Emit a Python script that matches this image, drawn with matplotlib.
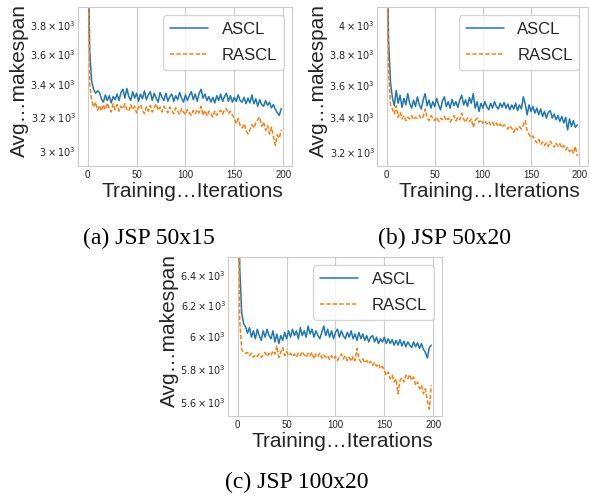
"""
Average makespan during training, ASCL vs RASCL, on three JSP instance sizes.
"""

import matplotlib
matplotlib.use("Agg")
import matplotlib.pyplot as plt
import seaborn as sns
import numpy as np
from matplotlib.ticker import FuncFormatter

ITERATIONS = list(range(0, 200, 2))

# (a) JSP 50x15
ascl_50x15 = [
    4600, 3620, 3420, 3370, 3345, 3360, 3350, 3310, 3290, 3335,
    3300, 3330, 3285, 3325, 3305, 3340, 3300, 3350, 3370, 3315,
    3375, 3325, 3300, 3355, 3315, 3345, 3295, 3340, 3310, 3360,
    3305, 3335, 3355, 3300, 3345, 3315, 3290, 3350, 3320, 3300,
    3345, 3295, 3325, 3340, 3295, 3330, 3305, 3350, 3315, 3290,
    3335, 3300, 3330, 3355, 3305, 3340, 3295, 3345, 3370, 3315,
    3340, 3300, 3325, 3290, 3320, 3285, 3330, 3300, 3340, 3295,
    3325, 3345, 3295, 3330, 3290, 3320, 3295, 3335, 3300, 3290,
    3320, 3280, 3315, 3285, 3335, 3280, 3310, 3265, 3305, 3275,
    3265, 3300, 3270, 3290, 3255, 3275, 3245, 3225, 3210, 3250,
]
rascl_50x15 = [
    4500, 3400, 3300, 3260, 3290, 3240, 3270, 3235, 3275, 3245,
    3285, 3250, 3230, 3280, 3245, 3275, 3235, 3265, 3250, 3280,
    3245, 3235, 3275, 3245, 3265, 3225, 3260, 3275, 3240, 3220,
    3260, 3235, 3270, 3230, 3255, 3280, 3240, 3260, 3230, 3265,
    3245, 3225, 3260, 3240, 3220, 3255, 3235, 3215, 3250, 3230,
    3215, 3245, 3225, 3210, 3240, 3220, 3245, 3225, 3265, 3210,
    3240, 3205, 3235, 3220, 3200, 3235, 3210, 3230, 3240, 3215,
    3245, 3250, 3220, 3235, 3210, 3195, 3160, 3190, 3150, 3135,
    3160, 3120, 3100, 3125, 3155, 3135, 3165, 3185, 3200, 3145,
    3170, 3120, 3150, 3100, 3140, 3085, 3035, 3095, 3075, 3125,
]

# (b) JSP 50x20
ascl_50x20 = [
    5000, 3900, 3620, 3520, 3470, 3565, 3485, 3535, 3460, 3515,
    3475, 3545, 3485, 3455, 3505, 3465, 3525, 3475, 3450, 3505,
    3545, 3470, 3505, 3455, 3495, 3465, 3515, 3475, 3445, 3500,
    3525, 3465, 3495, 3455, 3510, 3470, 3495, 3460, 3505, 3535,
    3475, 3505, 3465, 3520, 3485, 3545, 3455, 3495, 3435, 3485,
    3455, 3495, 3465, 3445, 3485, 3455, 3495, 3465, 3450, 3485,
    3460, 3490, 3455, 3480, 3445, 3475, 3450, 3485, 3440, 3475,
    3450, 3525, 3480, 3415, 3475, 3435, 3465, 3425, 3455, 3415,
    3450, 3405, 3435, 3395, 3430, 3440, 3395, 3420, 3385, 3410,
    3375, 3405, 3365, 3400, 3325, 3390, 3345, 3380, 3340, 3355,
]
rascl_50x20 = [
    4900, 3700, 3480, 3450, 3420, 3470, 3400, 3430, 3390, 3410,
    3380, 3400, 3390, 3410, 3385, 3400, 3395, 3410, 3390, 3405,
    3450, 3400, 3380, 3410, 3395, 3380, 3400, 3375, 3395, 3385,
    3405, 3380, 3395, 3370, 3390, 3410, 3380, 3400, 3385, 3425,
    3390, 3370, 3395, 3375, 3390, 3340, 3380, 3395, 3370, 3385,
    3365, 3380, 3360, 3375, 3355, 3370, 3350, 3365, 3345, 3360,
    3340, 3355, 3345, 3330, 3350, 3335, 3310, 3340, 3325, 3345,
    3330, 3355, 3380, 3320, 3300, 3280, 3290, 3265, 3250, 3270,
    3240, 3255, 3235, 3250, 3230, 3260, 3240, 3225, 3250, 3230,
    3245, 3220, 3235, 3210, 3225, 3200, 3215, 3190, 3230, 3175,
]

# (c) JSP 100x20
ascl_100x20 = [
    7500, 6450, 6150, 6080, 6060, 6020, 6055, 5995, 6035, 5985,
    6045, 6005, 5975, 6035, 5995, 6045, 6005, 5985, 6035, 5965,
    6015, 5955, 6005, 5975, 6025, 5985, 6035, 5995, 6045, 6005,
    6035, 5985, 6055, 6005, 6035, 5995, 6065, 6015, 6045, 5995,
    6035, 6005, 5985, 6025, 6065, 6005, 6045, 5995, 6035, 5985,
    6025, 6045, 5995, 6035, 6005, 5985, 6025, 5995, 6035, 5985,
    6015, 5975, 6025, 5985, 6015, 5975, 6005, 5965, 5995, 6005,
    5965, 5995, 5955, 5985, 5965, 5995, 5955, 5985, 5955, 5980,
    5945, 5975, 5945, 5980, 5940, 5970, 5935, 5965, 5945, 5930,
    5965, 5935, 5960, 5925, 5955, 5920, 5900, 5865, 5930, 5945,
]
rascl_100x20 = [
    7400, 6100, 5920, 5900, 5895, 5900, 5880, 5895, 5870, 5885,
    5875, 5890, 5870, 5885, 5900, 5875, 5895, 5880, 5910, 5890,
    5940, 5870, 5900, 5930, 5880, 5905, 5880, 5895, 5875, 5890,
    5870, 5895, 5880, 5905, 5885, 5870, 5895, 5880, 5900, 5860,
    5890, 5875, 5895, 5865, 5885, 5870, 5880, 5855, 5880, 5860,
    5875, 5850, 5870, 5890, 5860, 5880, 5850, 5870, 5845, 5875,
    5850, 5925, 5860, 5840, 5860, 5835, 5850, 5830, 5845, 5820,
    5840, 5815, 5830, 5800, 5815, 5790, 5760, 5780, 5740, 5760,
    5720, 5740, 5650, 5730, 5745, 5720, 5760, 5740, 5765, 5730,
    5750, 5700, 5720, 5680, 5700, 5650, 5680, 5610, 5560, 5700,
]

BLUE = "#1f77b4"
ORANGE = "#ff7f0e"


def sci_label(v, pos=None):
    """Format a tick as m x 10^e in plain mathtext (DejaVu look)."""
    exp = int(np.floor(np.log10(v)))
    mant = f"{v / 10 ** exp:.1f}".rstrip("0").rstrip(".")
    return rf"${mant}\times10^{{{exp}}}$"


def plot_panel(fig, rect, ascl, rascl, ylim, caption, caption_xy):
    """Draw one training-curve panel plus its caption under it."""
    ax = fig.add_axes(rect)
    ax.plot(ITERATIONS, ascl, color=BLUE, lw=1.1, label="ASCL")
    ax.plot(ITERATIONS, rascl, color=ORANGE, lw=1.1,
            ls=(0, (2.8, 1.4)), label="RASCL")
    ax.set_yscale("log")
    ax.set_ylim(*ylim)
    ax.yaxis.set_major_formatter(FuncFormatter(sci_label))
    ax.yaxis.set_minor_formatter(FuncFormatter(sci_label))
    ax.set_xlim(-10, 209)
    ax.set_xticks([0, 50, 100, 150, 200])
    ax.tick_params(axis="both", which="both", labelsize=7, length=0)
    ax.tick_params(axis="y", which="both", pad=1.5)
    ax.tick_params(axis="x", pad=3)
    ax.set_xlabel("Training\u2026Iterations", fontsize=15, labelpad=1, x=0.535)
    ax.set_ylabel("Avg\u2026makespan", fontsize=15, labelpad=1, y=0.535)
    ax.legend(loc="upper right", fontsize=12, labelspacing=0.65,
              handlelength=2.3)
    fig.text(caption_xy[0], caption_xy[1], caption, ha="center", va="center",
             fontsize=17, family=["Liberation Serif", "DejaVu Serif"],
             color="black")
    return ax


def main():
    sns.set_style("whitegrid")
    plt.rcParams["font.family"] = ["Liberation Sans", "DejaVu Sans"]
    plt.rcParams["mathtext.fontset"] = "dejavusans"

    fig = plt.figure(figsize=(5.89, 5.0), dpi=100)
    plot_panel(fig, [0.1324, 0.668, 0.3633, 0.318], ascl_50x15, rascl_50x15,
               (2920, 3930), "(a) JSP 50x15", (149 / 589, 1 - 238 / 500))
    plot_panel(fig, [0.640, 0.668, 0.358, 0.318], ascl_50x20, rascl_50x20,
               (3120, 4130), "(b) JSP 50x20", (445 / 589, 1 - 238 / 500))
    plot_panel(fig, [0.3871, 0.168, 0.3633, 0.318], ascl_100x20, rascl_100x20,
               (5520, 6520), "(c) JSP 100x20", (297 / 589, 1 - 482 / 500))

    fig.savefig("out.png", dpi=100)


if __name__ == "__main__":
    main()
